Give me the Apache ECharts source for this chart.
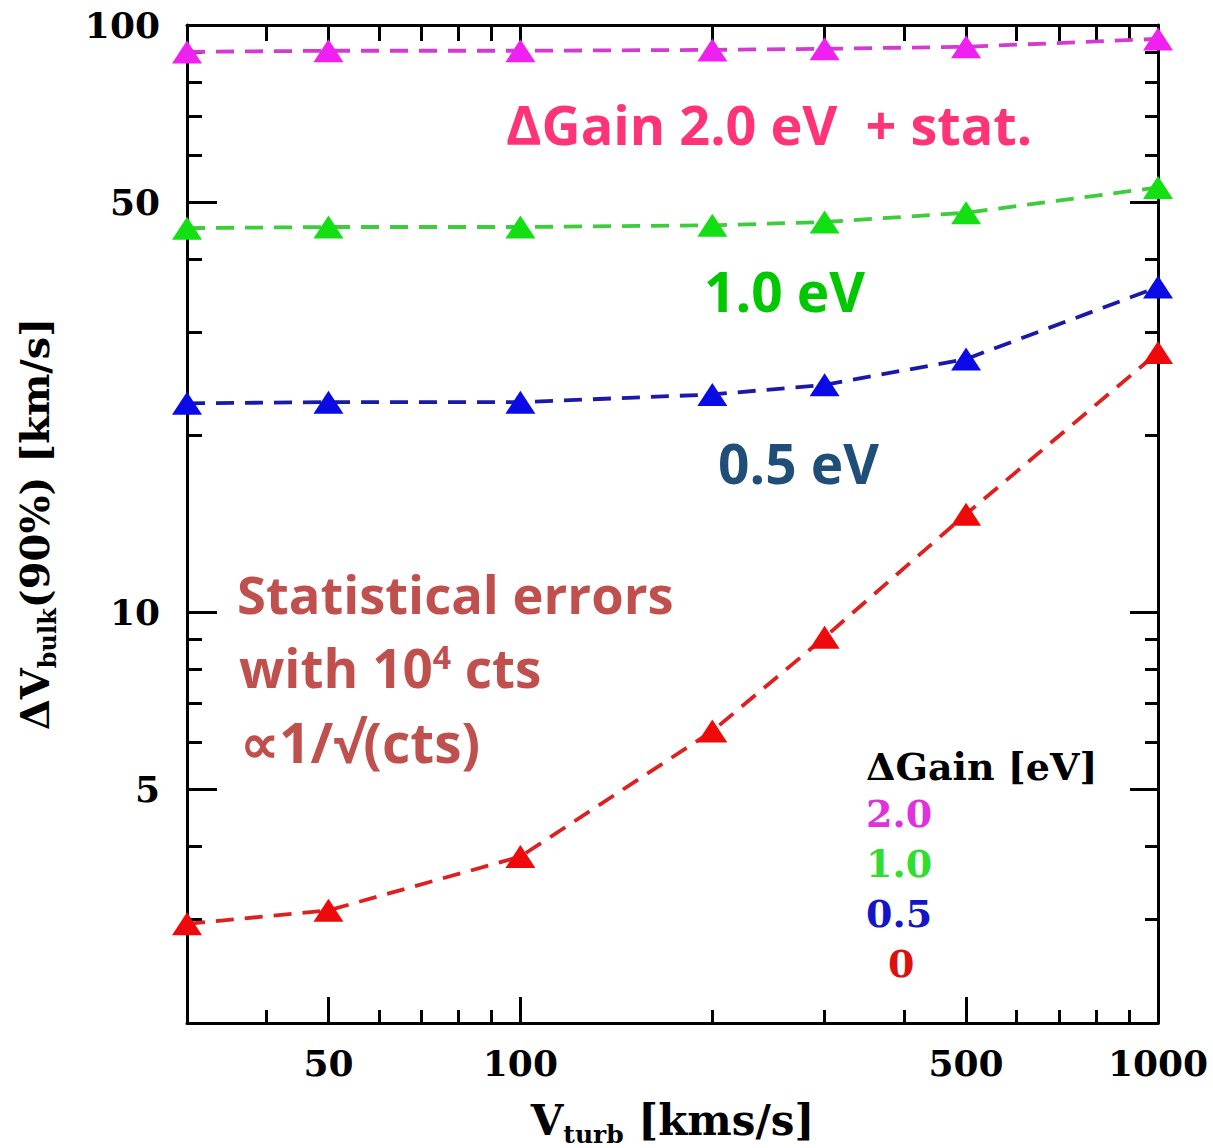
<!DOCTYPE html>
<html><head><meta charset="utf-8">
<script src="https://cdn.jsdelivr.net/npm/echarts@6/dist/echarts.min.js"></script>
<style>html,body{margin:0;padding:0;background:#fff}#c{width:1213px;height:1148px}</style>
</head><body><div id="c"></div>
<script>
// ---- data ----
const vturb = [30, 50, 100, 200, 300, 500, 1000];
const gain20 = [90.0, 90.4, 90.4, 90.7, 91.1, 91.8, 94.7];
const gain10 = [45.1, 45.3, 45.3, 45.6, 46.2, 47.9, 52.9];
const gain05 = [22.7, 22.8, 22.8, 23.5, 24.4, 27.0, 35.8];
const gain00 = [2.95, 3.11, 3.84, 6.28, 9.07, 14.7, 27.7];
const seriesNames = ['2.0', '1.0', '0.5', '0'];
const xMajorTicks = [50, 100, 500, 1000];
const xMinorTicks = [40, 60, 70, 80, 90, 200, 300, 400, 600, 700, 800, 900];
const yMajorTicks = [5, 10, 50, 100];
const yMinorTicks = [3, 4, 6, 7, 8, 9, 20, 30, 40, 60, 70, 80, 90];

const HF = "'DejaVu Serif',serif";
const AF = "'Open Sans', Lato, sans-serif";

function mk(name, vals, lineColor, markColor) {
  return {
    type: 'line', name: name,
    data: vturb.map((x, i) => [x, vals[i]]),
    xAxisIndex: 0, yAxisIndex: 0,
    symbol: 'triangle', symbolSize: [30, 23],
    itemStyle: { color: markColor },
    lineStyle: { color: lineColor, width: 3.8, type: [18, 11] },
    clip: false, animation: false, z: 5
  };
}

function axisCommon(min, max) {
  return { type: 'log', logBase: 10, min: min, max: max, splitLine: { show: false }, axisPointer: { show: false }, silent: true };
}

const lineStyle = { color: '#000', width: 3 };

const xAxes = [
  Object.assign(axisCommon(30, 1000), {
    position: 'bottom', axisLine: { show: true, onZero: false, lineStyle: lineStyle },
    axisTick: { show: true, inside: true, length: 26, customValues: xMajorTicks, lineStyle: { color: '#000', width: 3 } },
    axisLabel: { show: true, customValues: xMajorTicks, formatter: v => String(v), margin: 22, color: '#000', fontFamily: HF, fontWeight: 'bold', fontSize: 36 },
    name: '{n|V}{s|turb}{n| [kms/s]}', nameLocation: 'middle', nameGap: 76,
    nameTextStyle: { rich: {
      n: { fontFamily: HF, fontWeight: 'bold', fontSize: 42, color: '#000', verticalAlign: 'top', lineHeight: 46 },
      s: { fontFamily: HF, fontWeight: 'bold', fontSize: 25, color: '#000', verticalAlign: 'top', padding: [23, 0, 0, 0] }
    } }
  }),
  Object.assign(axisCommon(30, 1000), {
    position: 'bottom', axisLine: { show: false, onZero: false },
    axisTick: { show: true, inside: true, length: 13, customValues: xMinorTicks, lineStyle: { color: '#000', width: 3 } },
    axisLabel: { show: false }
  }),
  Object.assign(axisCommon(30, 1000), {
    position: 'top', axisLine: { show: true, onZero: false, lineStyle: lineStyle },
    axisTick: { show: true, inside: true, length: 16, customValues: xMajorTicks.concat(xMinorTicks), lineStyle: { color: '#000', width: 3 } },
    axisLabel: { show: false }
  })
];

const yAxes = [
  Object.assign(axisCommon(2, 100), {
    position: 'left', axisLine: { show: true, onZero: false, lineStyle: lineStyle },
    axisTick: { show: true, inside: true, length: 30, customValues: yMajorTicks, lineStyle: { color: '#000', width: 3 } },
    axisLabel: { show: true, customValues: yMajorTicks, formatter: v => String(v), margin: 27, color: '#000', fontFamily: HF, fontWeight: 'bold', fontSize: 36 },
    name: '{n|ΔV}{s|bulk}{n|(90%) [km/s]}', nameLocation: 'middle', nameGap: 128, nameRotate: 90,
    nameTextStyle: { rich: {
      n: { fontFamily: HF, fontWeight: 'bold', fontSize: 40, color: '#000', verticalAlign: 'top', lineHeight: 44 },
      s: { fontFamily: HF, fontWeight: 'bold', fontSize: 24, color: '#000', verticalAlign: 'top', padding: [21, 0, 0, 0] }
    } }
  }),
  Object.assign(axisCommon(2, 100), {
    position: 'left', axisLine: { show: false, onZero: false },
    axisTick: { show: true, inside: true, length: 15, customValues: yMinorTicks, lineStyle: { color: '#000', width: 3 } },
    axisLabel: { show: false }
  }),
  Object.assign(axisCommon(2, 100), {
    position: 'right', axisLine: { show: true, onZero: false, lineStyle: lineStyle },
    axisTick: { show: true, inside: true, length: 28, customValues: yMajorTicks, lineStyle: { color: '#000', width: 3 } },
    axisLabel: { show: false }
  }),
  Object.assign(axisCommon(2, 100), {
    position: 'right', axisLine: { show: false, onZero: false },
    axisTick: { show: true, inside: true, length: 13, customValues: yMinorTicks, lineStyle: { color: '#000', width: 3 } },
    axisLabel: { show: false }
  })
];

function txt(x, y, text, font, size, weight, color, extra) {
  return {
    type: 'text', x: x, y: y, z: 100,
    style: Object.assign({ text: text, fontFamily: font, fontSize: size, fontWeight: weight, fill: color, align: 'left', verticalAlign: 'middle' }, extra || {})
  };
}

const option = {
  backgroundColor: '#fff',
  animation: false,
  grid: { left: 187, right: 55, top: 25, bottom: 125, containLabel: false, outerBoundsMode: 'none' },
  xAxis: xAxes,
  yAxis: yAxes,
  series: [
    mk(seriesNames[0], gain20, '#d23ad2', '#f020f0'),
    mk(seriesNames[1], gain10, '#3ccc3c', '#12e012'),
    mk(seriesNames[2], gain05, '#1a1aa8', '#0a0ae6'),
    mk(seriesNames[3], gain00, '#dd2020', '#ee0a0a')
  ],
  graphic: [
    txt(506, 124, 'ΔGain 2.0 eV  + stat.', AF, 54, 'bold', '#ff3378'),
    txt(704, 290, '1.0 eV', AF, 55, 'bold', '#00c800'),
    txt(718, 462, '0.5 eV', AF, 55, 'bold', '#1f4e79'),
    txt(237, 593, 'Statistical errors', AF, 52.5, 'bold', '#c0504d'),
    txt(239, 667, 'with 10{sup|4} cts', AF, 53, 'bold', '#c0504d', { rich: { sup: { fontFamily: AF, fontSize: 32, fontWeight: 'bold', fill: '#c0504d', verticalAlign: 'top', lineHeight: 53 } } }),
    txt(240, 741, '∝1/√(cts)', AF, 55, 'bold', '#c0504d'),
    txt(866, 766, 'ΔGain [eV]', HF, 38, 'bold', '#000'),
    txt(866, 813, seriesNames[0], HF, 38, 'bold', '#e030e0'),
    txt(866, 863, seriesNames[1], HF, 38, 'bold', '#30dd30'),
    txt(866, 913, seriesNames[2], HF, 38, 'bold', '#1515c8'),
    txt(888, 963, seriesNames[3], HF, 38, 'bold', '#dd1010')
  ]
};

const chart = echarts.init(document.getElementById('c'), null, { renderer: 'svg' });
chart.setOption(option);
</script>
</body></html>
